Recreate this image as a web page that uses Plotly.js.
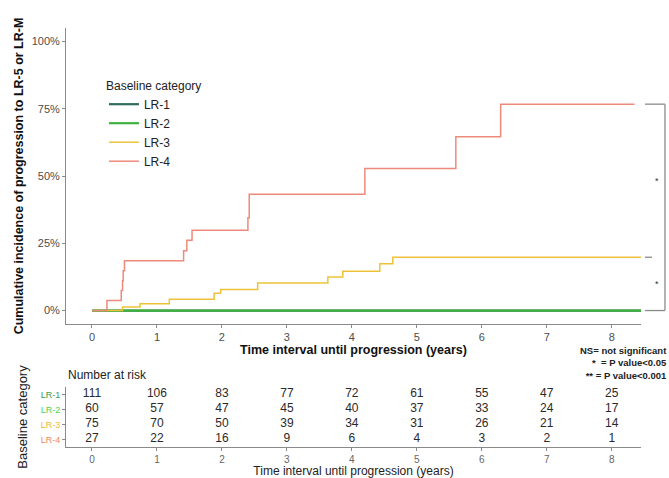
<!DOCTYPE html>
<html>
<head>
<meta charset="utf-8">
<script src="https://cdn.plot.ly/plotly-3.0.1.min.js"></script>
<style>html,body{margin:0;padding:0;background:#fff;}#chart{width:669px;height:478px;}</style>
</head>
<body>
<div id="chart"></div>
<script>
// ---- data ----
const groups = ['LR-1', 'LR-2', 'LR-3', 'LR-4'];
const lineColors = ['#2F6B5E', '#3DB33D', '#EDC23A', '#EE8A7C'];
const labelColors = ['#3C9A4C', '#4CD44C', '#F0B83A', '#EE8A5C'];

const lr1Time = [0, 8.45];
const lr1Cum  = [0, 0];
const lr2Time = [0, 8.45];
const lr2Cum  = [0, 0];
const lr3Time = [0, 0.47, 0.74, 1.19, 1.88, 1.98, 2.55, 3.63, 3.86, 4.43, 4.63, 8.45];
const lr3Cum  = [0, 0.013, 0.025, 0.042, 0.064, 0.078, 0.102, 0.125, 0.146, 0.174, 0.198, 0.198];
const lr4Time = [0, 0.23, 0.45, 0.47, 0.48, 0.50, 1.41, 1.46, 1.54, 2.40, 2.42, 4.20, 5.60, 6.29, 8.35];
const lr4Cum  = [0, 0.037, 0.074, 0.111, 0.148, 0.185, 0.222, 0.261, 0.298, 0.345, 0.432, 0.528, 0.646, 0.767, 0.767];

const riskTimes = [0, 1, 2, 3, 4, 5, 6, 7, 8];
const riskLR1 = [111, 106, 83, 77, 72, 61, 55, 47, 25];
const riskLR2 = [60, 57, 47, 45, 40, 37, 33, 24, 17];
const riskLR3 = [75, 70, 50, 39, 34, 31, 26, 21, 14];
const riskLR4 = [27, 22, 16, 9, 6, 4, 3, 2, 1];

const yTickVals = [0, 0.25, 0.5, 0.75, 1];
const yTickText = ['0%', '25%', '50%', '75%', '100%'];
const significance = ['*', '*'];
const keyLines = ['NS= not significant', '*  = P value&lt;0.05', '** = P value&lt;0.001'];

// ---- build ----
const times = [lr1Time, lr2Time, lr3Time, lr4Time];
const cums = [lr1Cum, lr2Cum, lr3Cum, lr4Cum];
const risks = [riskLR1, riskLR2, riskLR3, riskLR4];
const widths = [2.2, 2.2, 1.5, 1.5];

const traces = [];
groups.forEach((g, i) => {
  traces.push({
    type: 'scatter', mode: 'lines', name: g,
    x: times[i], y: cums[i],
    line: {shape: 'hv', color: lineColors[i], width: widths[i]},
    xaxis: 'x', yaxis: 'y', hoverinfo: 'skip'
  });
});
groups.forEach((g, i) => {
  traces.push({
    type: 'scatter', mode: 'text', showlegend: false,
    x: riskTimes, y: riskTimes.map(() => g), text: risks[i].map(String),
    textfont: {family: 'Liberation Sans, Arial, sans-serif', size: 12, color: '#2a2a2a'},
    textposition: 'middle center',
    xaxis: 'x2', yaxis: 'y2', hoverinfo: 'skip', cliponaxis: false
  });
});

const mainDomain = [0.3222, 0.9414];
const mainRange = [-0.05, 1.05];
function yPaper(v) {
  return mainDomain[0] + (v - mainRange[0]) / (mainRange[1] - mainRange[0]) * (mainDomain[1] - mainDomain[0]);
}
const endVals = [lr4Cum[lr4Cum.length - 1], lr3Cum[lr3Cum.length - 1], lr1Cum[lr1Cum.length - 1]];
const bx0 = 1.007, bx1 = 1.0417, bxMid = 1.019;
const gray = '#8a8a8a';
const shapes = [
  {type: 'line', xref: 'paper', yref: 'paper', x0: bx0, x1: bx1, y0: yPaper(endVals[0]), y1: yPaper(endVals[0]), line: {color: gray, width: 1.3}},
  {type: 'line', xref: 'paper', yref: 'paper', x0: bx1, x1: bx1, y0: yPaper(endVals[0]), y1: yPaper(endVals[2]), line: {color: gray, width: 1.3}},
  {type: 'line', xref: 'paper', yref: 'paper', x0: bx0, x1: bxMid, y0: yPaper(endVals[1]), y1: yPaper(endVals[1]), line: {color: gray, width: 1.3}},
  {type: 'line', xref: 'paper', yref: 'paper', x0: bx0, x1: bx1, y0: yPaper(endVals[2]), y1: yPaper(endVals[2]), line: {color: gray, width: 1.3}}
];

const font = 'Liberation Sans, Arial, sans-serif';
const annotations = [
  {xref: 'paper', yref: 'paper', x: 1.028, y: yPaper((endVals[0] + endVals[1]) / 2), text: significance[0], showarrow: false,
   font: {family: font, size: 9, color: '#333'}, xanchor: 'center', yanchor: 'middle'},
  {xref: 'paper', yref: 'paper', x: 1.028, y: yPaper((endVals[1] + endVals[2]) / 2), text: significance[1], showarrow: false,
   font: {family: font, size: 9, color: '#333'}, xanchor: 'center', yanchor: 'middle'},
  {xref: 'paper', yref: 'paper', x: 1.0485, y: 0.2405, text: keyLines.map(s => '<b>' + s + '</b>').join('<br>'), showarrow: false,
   align: 'right', font: {family: font, size: 9.5, color: '#222'}, xanchor: 'right', yanchor: 'middle'},
  {xref: 'paper', yref: 'paper', x: 0, y: 0.2155, text: 'Number at risk', showarrow: false,
   font: {family: font, size: 12, color: '#222'}, xanchor: 'left', yanchor: 'middle'}
];

const layout = {
  width: 669, height: 478,
  margin: {l: 66, r: 28, t: 0, b: 0},
  paper_bgcolor: '#fff', plot_bgcolor: '#fff',
  font: {family: font, color: '#222'},
  showlegend: true,
  legend: {
    x: 0.066, y: 0.845, xanchor: 'left', yanchor: 'top',
    bgcolor: 'rgba(0,0,0,0)', borderwidth: 0,
    title: {text: 'Baseline category', font: {family: font, size: 12, color: '#222'}},
    font: {family: font, size: 12, color: '#222'},
    itemwidth: 30, tracegroupgap: 0
  },
  xaxis: {
    domain: [0, 1], anchor: 'y', range: [-0.4, 8.45],
    tickvals: riskTimes, showgrid: false, zeroline: false,
    showline: true, linecolor: gray, linewidth: 1,
    ticks: 'outside', ticklen: 3, tickcolor: gray,
    tickfont: {family: font, size: 11, color: '#4d4d4d'},
    title: {text: '<b>Time interval until progression (years)</b>', font: {family: font, size: 12.5, color: '#111'}, standoff: 3}
  },
  yaxis: {
    domain: mainDomain, anchor: 'x', range: mainRange,
    tickvals: yTickVals, ticktext: yTickText, showgrid: false, zeroline: false,
    showline: true, linecolor: gray, linewidth: 1,
    ticks: 'outside', ticklen: 3, tickcolor: gray,
    tickfont: {family: font, size: 11, color: '#4d4d4d'},
    title: {text: '<b>Cumulative incidence of progression to LR-5 or LR-M</b>', font: {family: font, size: 12.5, color: '#111'}, standoff: 5}
  },
  xaxis2: {
    domain: [0, 1], anchor: 'y2', range: [-0.4, 8.45],
    tickvals: riskTimes, showgrid: false, zeroline: false,
    showline: true, linecolor: gray, linewidth: 1.2,
    ticks: 'outside', ticklen: 3, tickcolor: gray,
    tickfont: {family: font, size: 10, color: '#666'},
    title: {text: 'Time interval until progression (years)', font: {family: font, size: 12, color: '#222'}, standoff: 2}
  },
  yaxis2: {
    domain: [0.0649, 0.1904], anchor: 'x2', type: 'category',
    categoryorder: 'array', categoryarray: groups.slice().reverse(), range: [-0.5, 3.5],
    tickmode: 'array', tickvals: groups,
    ticktext: groups.map((g, i) => '<span style="color:' + labelColors[i] + '">' + g + '</span>'),
    showgrid: false, zeroline: false,
    showline: true, linecolor: gray, linewidth: 1,
    ticks: 'outside', ticklen: 3, tickcolor: gray,
    tickfont: {family: font, size: 9},
    title: {text: 'Baseline category', font: {family: font, size: 13, color: '#222'}, standoff: 10}
  },
  shapes: shapes,
  annotations: annotations
};

Plotly.newPlot('chart', traces, layout, {staticPlot: true, displayModeBar: false});
</script>
</body>
</html>
